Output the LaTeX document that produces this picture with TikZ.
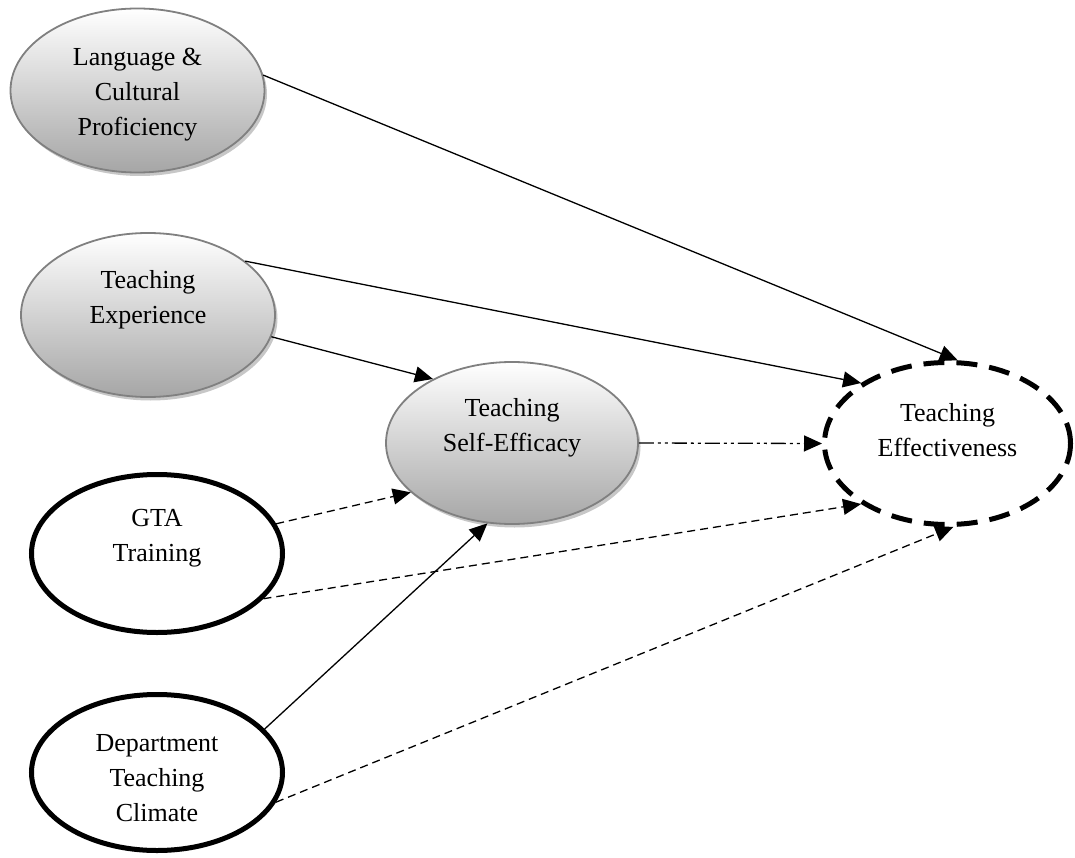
\documentclass[tikz,border=0pt]{standalone}
\usepackage{fontspec}
\setmainfont{Liberation Serif}
\usetikzlibrary{shapes.geometric,arrows.meta,shadows}
\begin{document}
\begin{tikzpicture}[x=1pt,y=-1pt,
  graybub/.style={ellipse, draw=black!50, line width=1.8pt, top color=white, bottom color=black!35, inner sep=0pt,
    drop shadow={shadow xshift=2.5pt, shadow yshift=-3.5pt, fill=black!22, opacity=1}},
  boldbub/.style={ellipse, draw=black, line width=5pt, fill=white, inner sep=0pt},
  effbub/.style={ellipse, draw=black, line width=5pt, dash pattern=on 21pt off 12pt, inner sep=0pt},
  lbl/.style={align=center, font=\fontsize{26}{35}\selectfont, inner sep=0pt},
  conn/.style={line width=1.3pt, -{Triangle[length=18pt,width=16pt]}},
  dsh/.style={conn, dash pattern=on 8pt off 5pt},
  dshdot/.style={conn, dash pattern=on 15pt off 4pt on 3pt off 4pt on 3pt off 4pt},
]
\useasboundingbox (0,0) rectangle (1075,858);

\node[graybub, minimum width=254pt, minimum height=164pt] (lang) at (137.5,90.5) {};
\node[graybub, minimum width=254pt, minimum height=164pt] (te) at (148,315) {};
\node[graybub, minimum width=252pt, minimum height=162pt] (se) at (512,443) {};
\node[effbub, minimum width=246pt, minimum height=162pt] (eff) at (947.5,443.5) {};
\node[boldbub, minimum width=251pt, minimum height=158pt] (gta) at (157,553.5) {};
\node[boldbub, minimum width=251pt, minimum height=156pt] (dept) at (157,772.5) {};

\node[lbl] (langT) at (137.5,95) {Language \&\\Cultural\\Proficiency};
\node[lbl] (teT) at (148,300) {Teaching\\Experience};
\node[lbl] (seT) at (512,428) {Teaching\\Self-Efficacy};
\node[lbl] (effT) at (947.5,430) {Teaching\\Effectiveness};
\node[lbl] (gtaT) at (157,538.5) {GTA\\Training};
\node[lbl] (deptT) at (157,778.5) {Department\\Teaching\\Climate};

\draw[conn] (lang.7) -- (eff.83);
\draw[conn] (te.29) -- (eff.145);
\draw[conn] (te.-10) -- (se.141);
\draw[dshdot] (se.0) -- (eff.180);
\draw[dsh] (gta.14) -- (se.206);
\draw[dsh] (gta.-23) -- (eff.215);
\draw[conn] (dept.22) -- (se.253);
\draw[dsh] (dept.-14) -- (eff.274);
\end{tikzpicture}
\end{document}
